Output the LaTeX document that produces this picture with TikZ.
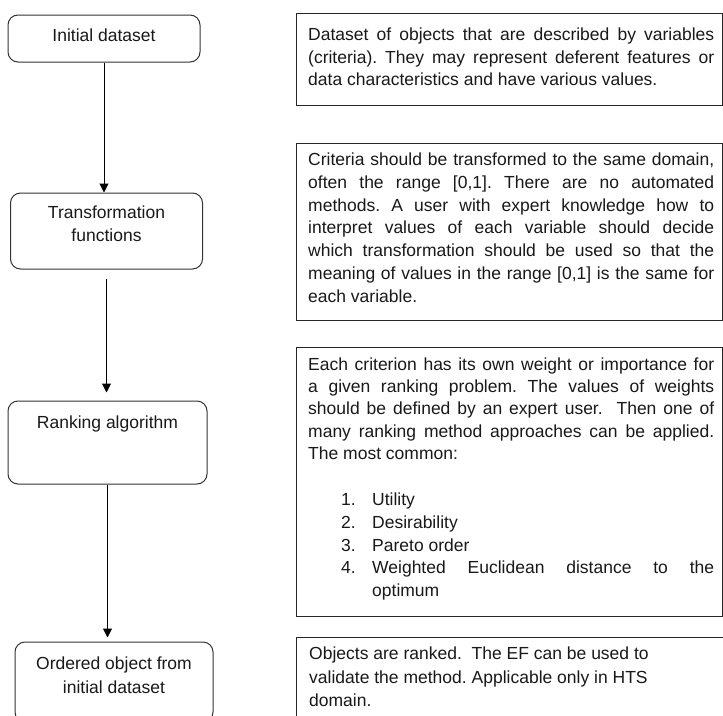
\documentclass[tikz,border=0pt]{standalone}
\usepackage{fontspec}
\setmainfont{Liberation Sans}
\usetikzlibrary{arrows.meta}
\frenchspacing
\begin{document}
\begin{tikzpicture}[x=1pt,y=-1pt,
  box/.style={draw=black!80, line width=1pt, rounded corners=10pt, inner sep=0pt},
  tbox/.style={draw=black!85, line width=1pt, inner sep=0pt},
  txt/.style={inner sep=0pt, font=\fontsize{17.5}{21}\selectfont\frenchspacing, text=black!90},
  arr/.style={draw=black, line width=1pt, -{Triangle[length=9pt,width=9pt]}}]
\useasboundingbox (0,0) rectangle (723,715);
\clip (0,0) rectangle (723,715);
\fill[white] (0,0) rectangle (723,715);

% left flow boxes
\node[box, minimum width=192pt, minimum height=47pt] (b1) at (104,38.5) {};
\node[box, minimum width=192pt, minimum height=76pt] (b2) at (106.5,231) {};
\node[box, minimum width=199pt, minimum height=83pt] (b3) at (107.5,442.5) {};
\node[box, minimum width=198pt, minimum height=80pt] (b4) at (114,682) {};

\node[txt, anchor=base] (l1) at (104,41) {Initial dataset};
\node[txt, anchor=base] (l2a) at (106.5,218) {Transformation};
\node[txt, anchor=base] (l2b) at (106.5,241) {functions};
\node[txt, anchor=base] (l3) at (107.5,428) {Ranking algorithm};
\node[txt, anchor=base] (l4a) at (114,669) {Ordered object from};
\node[txt, anchor=base] (l4b) at (114,693) {initial dataset};

% connectors
\draw[arr] (b1.south) -- (b1.south |- b2.north);
\draw[arr, shorten <=9pt, shorten >=8pt] (b2.south) -- (b2.south |- b3.north);
\draw[arr, shorten >=4pt] (b3.south) -- (b3.south |- b4.north);

% text boxes
\node[tbox, minimum width=426pt, minimum height=92pt] (t1) at (509,59) {};
\node[tbox, minimum width=426pt, minimum height=177pt] (t2) at (509,231.5) {};
\node[tbox, minimum width=426pt, minimum height=269pt] (t3) at (509,481.5) {};
\node[tbox, minimum width=444pt, minimum height=103pt] (t4) at (518,688.5) {};

% box 1 text
\node[txt, anchor=base west] (p1a) at (308,40) {\makebox[406pt][s]{Dataset of objects that are described by variables}};
\node[txt, anchor=base west] (p1b) at (308,63) {\makebox[406pt][s]{(criteria). They may represent deferent features or}};
\node[txt, anchor=base west] (p1c) at (308,85) {data characteristics and have various values.};

% box 2 text
\node[txt, anchor=base west] (p2a) at (308,165) {\makebox[406pt][s]{Criteria should be transformed to the same domain,}};
\node[txt, anchor=base west] (p2b) at (308,188) {\makebox[406pt][s]{often the range [0,1]. There are no automated}};
\node[txt, anchor=base west] (p2c) at (308,211) {\makebox[406pt][s]{methods. A user with expert knowledge how to}};
\node[txt, anchor=base west] (p2d) at (308,233) {\makebox[406pt][s]{interpret values of each variable should decide}};
\node[txt, anchor=base west] (p2e) at (308,256) {\makebox[406pt][s]{which transformation should be used so that the}};
\node[txt, anchor=base west] (p2f) at (308,279) {\makebox[406pt][s]{meaning of values in the range [0,1] is the same for}};
\node[txt, anchor=base west] (p2g) at (308,302) {each variable.};

% box 3 text
\node[txt, anchor=base west] (p3a) at (308,370) {\makebox[406pt][s]{Each criterion has its own weight or importance for}};
\node[txt, anchor=base west] (p3b) at (308,392) {\makebox[406pt][s]{a given ranking problem. The values of weights}};
\node[txt, anchor=base west] (p3c) at (308,414) {\makebox[406pt][s]{should be defined by an expert user.\ \ Then one of}};
\node[txt, anchor=base west] (p3d) at (308,437) {\makebox[406pt][s]{many ranking method approaches can be applied.}};
\node[txt, anchor=base west] (p3e) at (308,459) {The most common:};

\node[txt, anchor=base west] (n1) at (341,505) {1.};
\node[txt, anchor=base west] (i1) at (372,505) {Utility};
\node[txt, anchor=base west] (n2) at (341,528) {2.};
\node[txt, anchor=base west] (i2) at (372,528) {Desirability};
\node[txt, anchor=base west] (n3) at (341,551) {3.};
\node[txt, anchor=base west] (i3) at (372,551) {Pareto order};
\node[txt, anchor=base west] (n4) at (341,573) {4.};
\node[txt, anchor=base west] (i4) at (372,573) {\makebox[342pt][s]{Weighted Euclidean distance to the}};
\node[txt, anchor=base west] (i4b) at (372,596) {optimum};

% box 4 text
\node[txt, anchor=base west] (p4a) at (309,659) {Objects are ranked.\ \ The EF can be used to};
\node[txt, anchor=base west] (p4b) at (309,683) {validate the method. Applicable only in HTS};
\node[txt, anchor=base west] (p4c) at (309,706) {domain.};
\end{tikzpicture}
\end{document}
